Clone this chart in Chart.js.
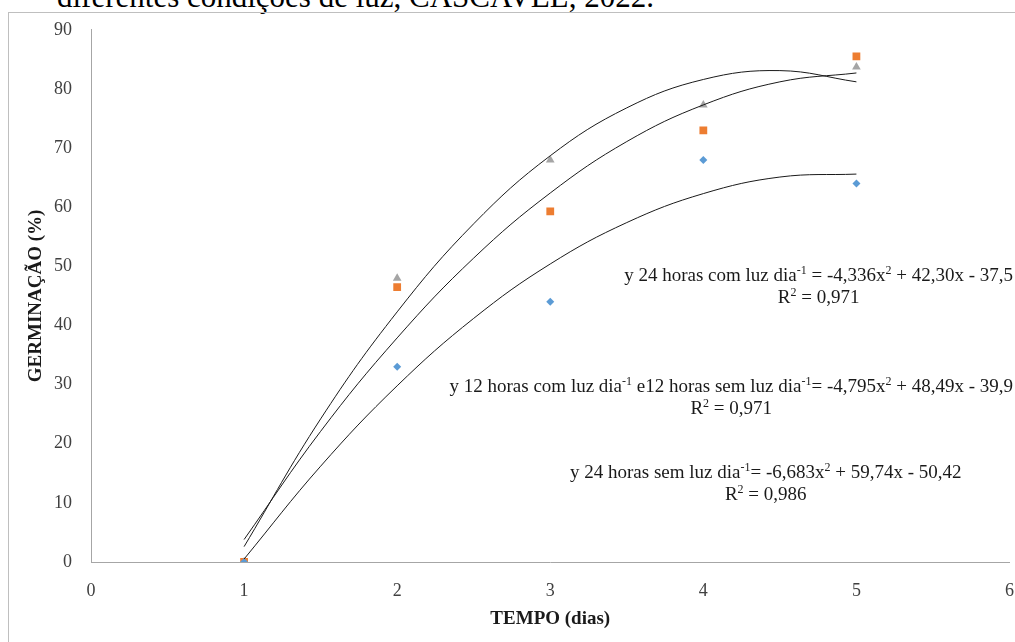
<!DOCTYPE html>
<html>
<head>
<meta charset="utf-8">
<script src="https://cdn.jsdelivr.net/npm/chart.js@4"></script>
<style>
  html, body { margin: 0; padding: 0; background: #fff; }
  body { width: 1015px; height: 642px; position: relative; overflow: hidden; }
  #frame { position: absolute; left: 8px; top: 12px; width: 1100px; height: 700px;
           border-left: 1px solid #bfbfbf; border-top: 1px solid #bfbfbf; }
  #caption { position: absolute; left: 57px; top: -19px; font: 31px/32px "Liberation Serif", serif;
             white-space: nowrap; color: #000; }
  #wrap { position: absolute; left: 0; top: 0; width: 1015px; height: 642px; }
</style>
</head>
<body>
<div id="caption">diferentes condições de luz, CASCAVEL, 2022.</div>
<div id="frame"></div>
<div id="wrap"><canvas id="chart" width="1015" height="642"></canvas></div>
<script>
// observed germination (%) per day
var dias = [1, 2, 3, 4, 5];
var comLuz24 = [0, 33, 44, 68, 64];            // blue diamonds
var luz12escuro12 = [0, 46.5, 59.3, 73, 85.5]; // orange squares
var semLuz24 = [0, 48, 68, 77.3, 83.7];        // grey triangles

// trend curves
var curvaX = [1, 1.5, 2, 2.5, 3, 3.5, 4, 4.5, 5];
var curvaComLuz24 = [0.5, 16.2, 29.8, 41.2, 50.4, 57.4, 62.3, 65.1, 65.6];
var curvaLuz12 = [3.8, 22.1, 37.9, 51.4, 62.4, 71.1, 77.3, 81.2, 82.7];
var curvaSemLuz24 = [2.6, 24.2, 42.3, 57.2, 68.7, 76.8, 81.6, 83.1, 81.2];

var xTicks = [0, 1, 2, 3, 4, 5, 6];
var yTicks = [0, 10, 20, 30, 40, 50, 60, 70, 80, 90];

function pts(xs, ys) {
  return xs.map(function(x, i) { return { x: x, y: ys[i] }; });
}

function curve(ys) {
  return {
    data: pts(curvaX, ys),
    showLine: true,
    borderColor: "#1a1a1a",
    borderWidth: 1,
    pointRadius: 0,
    tension: 0.4,
    fill: false
  };
}

// equation labels, [text, superscript?]
var eqs = [
  { x: 1013, y: 281, align: "right", parts: [["y 24 horas com luz dia"], ["-1", 1], [" = -4,336x"], ["2", 1], [" + 42,30x - 37,5"]] },
  { x: 1013, y: 392, align: "right", parts: [["y 12 horas com luz dia"], ["-1", 1], [" e12 horas sem luz dia"], ["-1", 1], ["= -4,795x"], ["2", 1], [" + 48,49x - 39,9"]] },
  { x: 570, y: 478, align: "left", parts: [["y 24 horas sem luz dia"], ["-1", 1], ["= -6,683x"], ["2", 1], [" + 59,74x - 50,42"]] }
];
var r2 = ["0,971", "0,971", "0,986"];

var normalFont = "19px 'Liberation Serif', serif";
var supFont = "12px 'Liberation Serif', serif";

function widthOf(ctx, parts) {
  var w = 0;
  parts.forEach(function(p) {
    ctx.font = p[1] ? supFont : normalFont;
    w += ctx.measureText(p[0]).width;
  });
  return w;
}

function drawParts(ctx, parts, x, y) {
  parts.forEach(function(p) {
    ctx.font = p[1] ? supFont : normalFont;
    ctx.fillText(p[0], x, p[1] ? y - 7 : y);
    x += ctx.measureText(p[0]).width;
  });
}

var equationPlugin = {
  id: "equations",
  afterDraw: function(chart) {
    var ctx = chart.ctx;
    ctx.save();
    ctx.fillStyle = "#1a1a1a";
    ctx.textBaseline = "alphabetic";
    ctx.textAlign = "left";
    eqs.forEach(function(eq, i) {
      var w = widthOf(ctx, eq.parts);
      var x0 = eq.align === "right" ? eq.x - w : eq.x;
      drawParts(ctx, eq.parts, x0, eq.y);
      var rParts = [["R"], ["2", 1], [" = " + r2[i]]];
      var rw = widthOf(ctx, rParts);
      drawParts(ctx, rParts, x0 + w / 2 - rw / 2, eq.y + 22);
    });
    ctx.restore();
  }
};

var tickFont = { family: "'Liberation Serif', serif", size: 18 };
var titleFont = { family: "'Liberation Serif', serif", size: 19, weight: "bold" };

new Chart(document.getElementById("chart").getContext("2d"), {
  type: "scatter",
  data: {
    datasets: [
      curve(curvaSemLuz24),
      curve(curvaLuz12),
      curve(curvaComLuz24),
      {
        data: pts(dias, comLuz24),
        pointStyle: "rectRot",
        pointRadius: 4,
        backgroundColor: "#5b9bd5",
        borderColor: "#5b9bd5",
        borderWidth: 0
      },
      {
        data: pts(dias, luz12escuro12),
        pointStyle: "rect",
        pointRadius: 5.5,
        backgroundColor: "#ed7d31",
        borderColor: "#ed7d31",
        borderWidth: 0
      },
      {
        data: pts(dias, semLuz24),
        pointStyle: "triangle",
        pointRadius: 5,
        backgroundColor: "#a5a5a5",
        borderColor: "#a5a5a5",
        borderWidth: 0
      }
    ]
  },
  options: {
    responsive: false,
    animation: false,
    layout: { padding: { left: 0, right: 4, top: 29, bottom: 0 } },
    plugins: { legend: { display: false }, tooltip: { enabled: false } },
    elements: { point: { hoverRadius: 0 } },
    scales: {
      x: {
        type: "linear",
        min: 0,
        max: 6,
        afterBuildTicks: function(scale) {
          scale.ticks = xTicks.map(function(v) { return { value: v }; });
        },
        afterFit: function(scale) {
          scale.height = 80;
          scale.paddingLeft = 0;
          scale.paddingRight = 0;
        },
        grid: { display: false, drawTicks: false },
        border: { color: "#a6a6a6", width: 1 },
        ticks: { font: tickFont, color: "#404040", padding: 18, maxRotation: 0 },
        title: { display: true, text: "TEMPO (dias)", font: titleFont, color: "#1a1a1a", padding: { top: 0, bottom: 12 } }
      },
      y: {
        min: 0,
        max: 90,
        afterBuildTicks: function(scale) {
          scale.ticks = yTicks.map(function(v) { return { value: v }; });
        },
        afterFit: function(scale) { scale.width = 91; },
        grid: { display: false, drawTicks: false },
        border: { color: "#a6a6a6", width: 1 },
        ticks: { font: tickFont, color: "#404040", padding: 19 },
        title: { display: true, text: "GERMINAÇÃO (%)", font: titleFont, color: "#1a1a1a", padding: { top: 25, bottom: 0 } }
      }
    }
  },
  plugins: [equationPlugin]
});
</script>
</body>
</html>
